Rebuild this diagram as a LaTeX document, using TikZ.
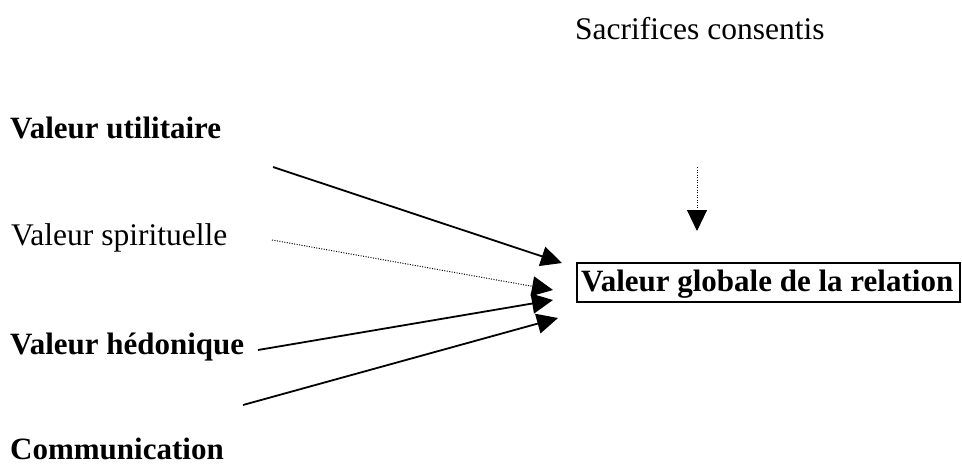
\documentclass[tikz,border=0pt]{standalone}
\usepackage{fontspec}
\setmainfont{Liberation Serif}
\usetikzlibrary{arrows.meta}
\tikzset{
  lbl/.style={anchor=base west, inner sep=0pt, font=\fontsize{31.5}{36}\selectfont},
  blbl/.style={lbl, font=\fontsize{31}{36}\selectfont\bfseries},
  tip/.style={-{Triangle[length=21pt,width=20pt]}},
  solidarr/.style={tip, line width=1.8pt},
  dotarr/.style={tip, line width=1pt, dash pattern=on 1pt off 1.5pt},
}
\begin{document}
\begin{tikzpicture}[x=1pt,y=-1pt]
\useasboundingbox (0,0) rectangle (962,466);
\node[lbl] (sac) at (575,39) {Sacrifices consentis};
\node[blbl] (vu) at (10,138) {Valeur utilitaire};
\node[lbl] (vs) at (11,245) {Valeur spirituelle};
\node[blbl] (vh) at (10,354) {Valeur hédonique};
\node[blbl] (com) at (10,459) {Communication};
\draw[line width=1.8pt] (577,263) rectangle (960,302);
\node[blbl] (vg) at (581,291) {Valeur globale de la relation};
\coordinate (s0) at (697,167);
\coordinate (t0) at (697,231);
\coordinate (s1) at (273,167);
\coordinate (t1) at (562,263);
\coordinate (s2) at (272,240);
\coordinate (t2) at (553,290);
\coordinate (s3) at (258,350);
\coordinate (t3) at (553,300);
\coordinate (s4) at (243,405);
\coordinate (t4) at (558,318);
\draw[dotarr] (s0) -- (t0);
\draw[solidarr] (s1) -- (t1);
\draw[dotarr] (s2) -- (t2);
\draw[solidarr] (s3) -- (t3);
\draw[solidarr] (s4) -- (t4);
\end{tikzpicture}
\end{document}
